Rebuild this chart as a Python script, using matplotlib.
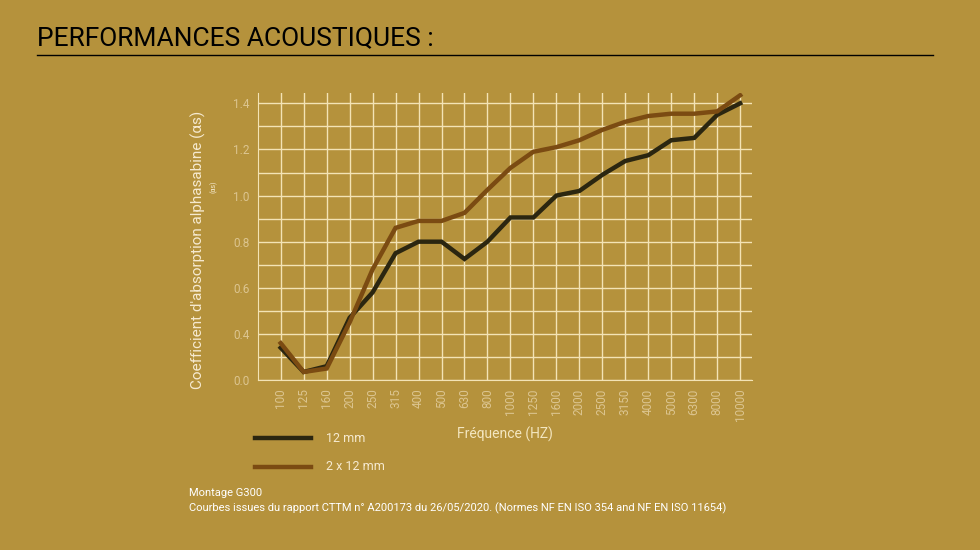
import matplotlib
matplotlib.use("Agg")
import matplotlib.pyplot as plt
from matplotlib.lines import Line2D

plt.rcParams['font.family'] = ['Roboto', 'DejaVu Sans']

freqs = ["100","125","160","200","250","315","400","500","630","800","1000","1250",
         "1600","2000","2500","3150","4000","5000","6300","8000","10000"]
s12 = [0.34,0.235,0.26,0.47,0.58,0.75,0.80,0.80,0.725,0.80,0.905,0.905,1.0,1.02,1.09,
       1.15,1.175,1.24,1.25,1.35,1.40]
s2x12 = [0.36,0.235,0.25,0.45,0.68,0.86,0.89,0.89,0.925,1.025,1.12,1.19,1.21,1.24,1.285,
         1.32,1.345,1.355,1.355,1.365,1.435]
ytick_vals = [0.2,0.4,0.6,0.8,1.0,1.2,1.4]
ytick_labels = ["0.0","0.4","0.6","0.8","1.0","1.2","1.4"]

bg = "#b5923c"
grid = "#f3e3b5"
tickc = "#dcc590"
fig = plt.figure(figsize=(9.8,5.5), dpi=100, facecolor=bg)
ax = fig.add_axes([0.263,0.309,0.504,0.522], facecolor=bg)
x = list(range(len(freqs)))
ax.plot(x, s12, color="#2b2610", lw=3.2, solid_joinstyle="miter", zorder=3)
ax.plot(x, s2x12, color="#7b4b12", lw=3.2, solid_joinstyle="miter", zorder=3)
ax.set_xlim(-1, 20.5)
ax.set_ylim(0.2, 1.445)
ax.set_xticks(x)
ax.set_xticklabels(freqs, rotation=90, color=tickc, fontsize=8.5)
ax.set_yticks(ytick_vals)
ax.set_yticklabels(ytick_labels, color=tickc, fontsize=8.5)
ax.set_yticks([0.3,0.5,0.7,0.9,1.1,1.3], minor=True)
ax.grid(True, which="both", color=grid, lw=1)
ax.tick_params(which="both", length=0, pad=6)
for s in ["top","right"]:
    ax.spines[s].set_visible(False)
for s in ["left","bottom"]:
    ax.spines[s].set_color(grid)
ax.set_xlabel("Fréquence (HZ)", color="#f3e6c0", fontsize=10, labelpad=4)
fig.text(0.202, 0.545, "Coefficient d'absorption alphasabine (αs)", rotation=90,
         color="#f6ead0", fontsize=11, ha="center", va="center")
fig.text(0.218, 0.66, "(αs)", rotation=90, color="#f6ead0", fontsize=5, ha="center", va="center")

fig.text(0.038, 0.93, "PERFORMANCES ACOUSTIQUES :", fontsize=19, color="black", va="center")
fig.add_artist(Line2D([0.038,0.952],[0.9,0.9], color="black", lw=1))

fig.add_artist(Line2D([0.26,0.317],[0.203,0.203], color="#2b2610", lw=3.2))
fig.add_artist(Line2D([0.26,0.317],[0.151,0.151], color="#7b4b12", lw=3.2))
fig.text(0.333, 0.203, "12 mm", color="#f6ead0", fontsize=9, va="center")
fig.text(0.333, 0.151, "2 x 12 mm", color="#f6ead0", fontsize=9, va="center")
fig.text(0.193, 0.104, "Montage G300", color="white", fontsize=8, va="center")
fig.text(0.193, 0.075, "Courbes issues du rapport CTTM n° A200173 du 26/05/2020. (Normes NF EN ISO 354 and NF EN ISO 11654)",
         color="white", fontsize=8, va="center")
fig.savefig("out.png", facecolor=bg)
